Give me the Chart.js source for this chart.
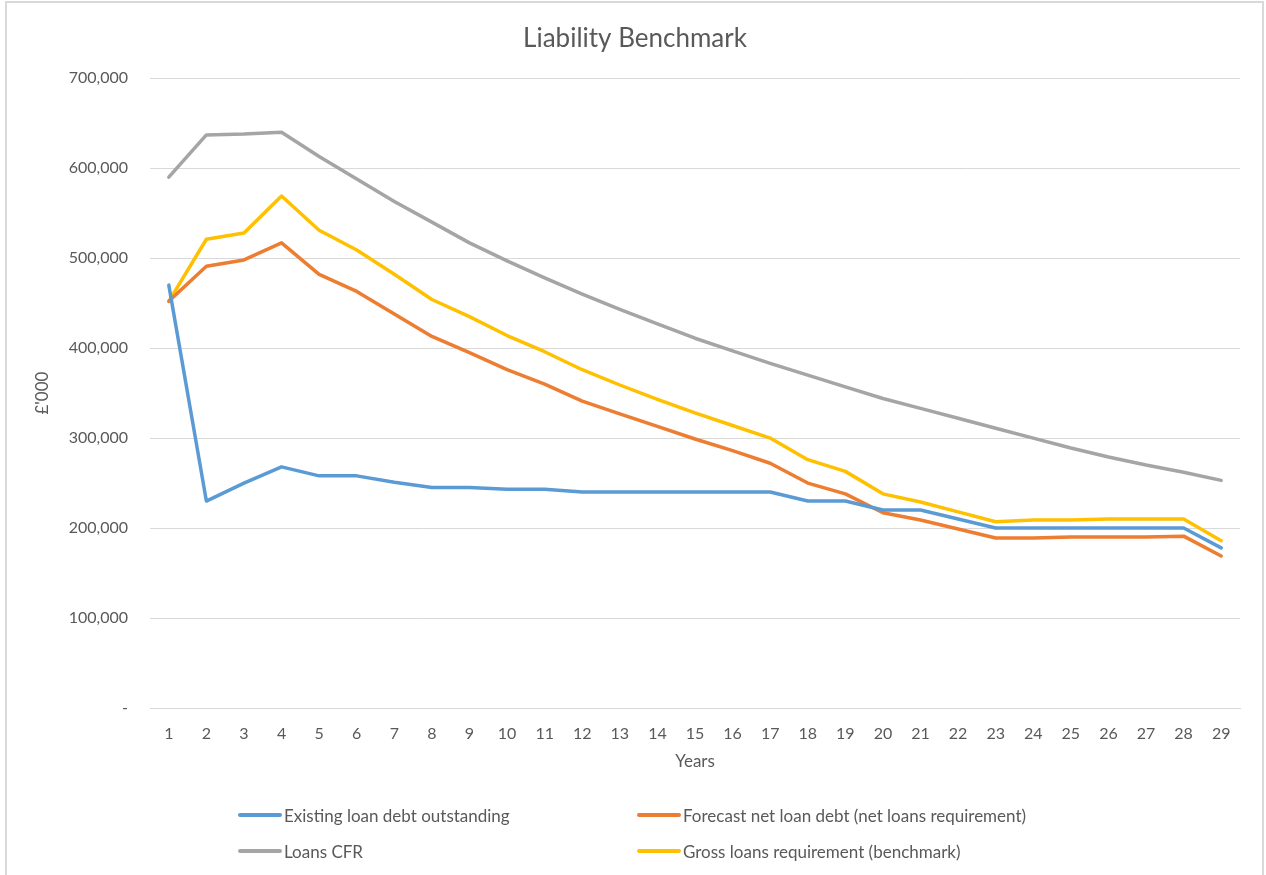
<!DOCTYPE html>
<html>
<head>
<meta charset="utf-8">
<script src="https://cdn.jsdelivr.net/npm/chart.js@4"></script>
<style>
  body { margin: 0; background: #fff; }
  #wrap { position: relative; width: 1266px; height: 875px; overflow: hidden; }
  #frame { position: absolute; left: 5px; top: 1px; width: 1255px; height: 880px; border: 2px solid #d9d9d9; pointer-events: none; }
  #legend { position: absolute; left: 238px; top: 803px; display: grid; grid-template-columns: 399px 440px; row-gap: 12px;
            font-family: Lato, sans-serif; font-size: 17px; color: #595959; }
  #legend .item { display: flex; align-items: center; height: 24px; }
  #legend .sw { width: 44px; height: 4px; border-radius: 2px; margin-right: 2px; }
</style>
</head>
<body>
<div id="wrap">
  <canvas id="line" width="1266" height="875"></canvas>
  <div id="legend"></div>
  <div id="frame"></div>
</div>
<script>
var years = ["1", "2", "3", "4", "5", "6", "7", "8", "9", "10", "11", "12", "13", "14", "15",
    "16", "17", "18", "19", "20", "21", "22", "23", "24", "25", "26", "27", "28", "29"];
var existingDebt = [470000, 230000, 250000, 268000, 258000, 258000, 251000, 245000, 245000, 243000,
    243000, 240000, 240000, 240000, 240000, 240000, 240000, 230000, 230000, 220000,
    220000, 210000, 200000, 200000, 200000, 200000, 200000, 200000, 178000];
var forecastNetDebt = [452000, 491000, 498000, 517000, 482000, 463000, 438000, 413000, 395000, 376000,
    360000, 341000, 327000, 313000, 299000, 286000, 272000, 250000, 238000, 217000,
    209000, 199000, 189000, 189000, 190000, 190000, 190000, 191000, 169000];
var loansCFR = [590000, 637000, 638000, 640000, 613000, 588000, 563000, 540000, 517000, 497000,
    478000, 460000, 443000, 427000, 411000, 397000, 383000, 370000, 357000, 344000,
    333000, 322000, 311000, 300000, 289000, 279000, 270000, 262000, 253000];
var grossRequirement = [452000, 521000, 528000, 569000, 531000, 509000, 482000, 454000, 435000, 414000,
    396000, 376000, 359000, 343000, 328000, 314000, 300000, 276000, 263000, 238000,
    229000, 218000, 207000, 209000, 209000, 210000, 210000, 210000, 186000];

var textColor = "#595959";
var gridColor = "#d9d9d9";
var fontFamily = "Lato, sans-serif";

var series = function (label, data, color) {
    return {
        label: label,
        data: data,
        borderColor: color,
        backgroundColor: color,
        borderWidth: 3.5,
        pointRadius: 0,
        tension: 0,
        borderCapStyle: "round",
        borderJoinStyle: "round",
    };
};

var lCtx = document.getElementById("line").getContext("2d");
// @ts-ignore
var chart = new Chart(lCtx, {
    type: "line",
    data: {
        labels: years,
        datasets: [
            series("Existing loan debt outstanding", existingDebt, "#5b9bd5"),
            series("Forecast net loan debt (net loans requirement)", forecastNetDebt, "#ed7d31"),
            series("Loans CFR", loansCFR, "#a5a5a5"),
            series("Gross loans requirement (benchmark)", grossRequirement, "#ffc000"),
        ],
    },
    options: {
        responsive: false,
        animation: false,
        layout: {
            padding: { left: 30, right: 26, top: 0, bottom: 97 },
        },
        plugins: {
            legend: { display: false },
            tooltip: { enabled: false },
            title: {
                display: true,
                text: "Liability Benchmark",
                color: textColor,
                font: { family: fontFamily, size: 26, weight: "normal" },
                padding: { top: 23, bottom: 24 },
            },
        },
        scales: {
            x: {
                offset: true,
                afterFit: function (scale) { scale.height = 70; },
                grid: { display: false },
                border: { display: true, color: gridColor, width: 1 },
                ticks: {
                    color: textColor,
                    font: { family: fontFamily, size: 16 },
                    maxRotation: 0,
                    autoSkip: false,
                    padding: 8,
                },
                title: {
                    display: true,
                    text: "Years",
                    color: textColor,
                    font: { family: fontFamily, size: 17 },
                    padding: { top: 0, bottom: 6 },
                },
            },
            y: {
                min: 0,
                max: 700000,
                afterFit: function (scale) { scale.width = 120; },
                border: { display: false },
                grid: { color: gridColor, lineWidth: 1, drawTicks: false },
                ticks: {
                    stepSize: 100000,
                    color: textColor,
                    font: { family: fontFamily, size: 16 },
                    padding: 22,
                    callback: function (value) { return value === 0 ? "-" : value.toLocaleString("en-GB"); },
                },
                title: {
                    display: true,
                    text: "£'000",
                    color: textColor,
                    font: { family: fontFamily, size: 17 },
                    padding: { top: 2, bottom: 0 },
                },
            },
        },
    },
});

var legendBox = document.getElementById("legend");
chart.data.datasets.forEach(function (ds) {
    var item = document.createElement("div");
    item.className = "item";
    var sw = document.createElement("span");
    sw.className = "sw";
    sw.style.background = ds.borderColor;
    var txt = document.createElement("span");
    txt.textContent = ds.label;
    item.appendChild(sw);
    item.appendChild(txt);
    legendBox.appendChild(item);
});
</script>
</body>
</html>
